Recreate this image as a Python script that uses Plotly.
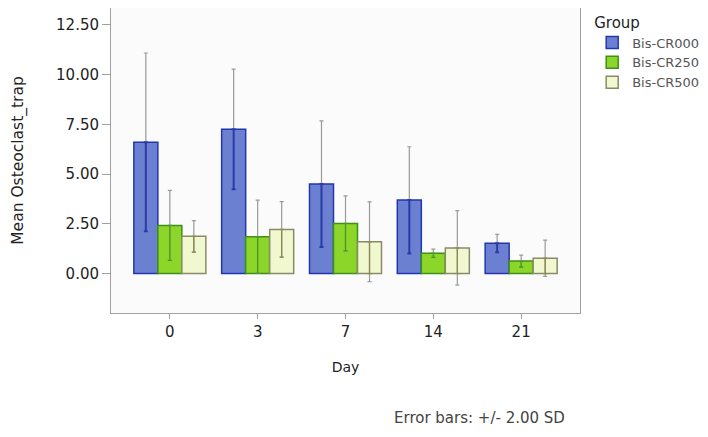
import plotly.graph_objects as go

days = ["0", "3", "7", "14", "21"]
groups = ["Bis-CR000", "Bis-CR250", "Bis-CR500"]
means = {
    "Bis-CR000": [6.60, 7.25, 4.50, 3.69, 1.52],
    "Bis-CR250": [2.42, 1.85, 2.52, 1.02, 0.63],
    "Bis-CR500": [1.87, 2.22, 1.60, 1.29, 0.77],
}
err2sd = {
    "Bis-CR000": [4.48, 3.02, 3.17, 2.68, 0.45],
    "Bis-CR250": [1.76, 1.84, 1.38, 0.21, 0.30],
    "Bis-CR500": [0.79, 1.39, 2.00, 1.87, 0.91],
}
fills = {"Bis-CR000": "#6c80d2", "Bis-CR250": "#8cd62a", "Bis-CR500": "#f1f8cf"}
lines = {"Bis-CR000": "#2236b0", "Bis-CR250": "#3f8f1a", "Bis-CR500": "#8a8a6a"}
inner = {"Bis-CR000": "#2a3aa8", "Bis-CR250": "#4a9a1c", "Bis-CR500": "#8a8a50"}

font = "DejaVu Sans, sans-serif"
fig = go.Figure()
for g in groups:
    fig.add_trace(go.Bar(
        x=days, y=means[g], name=g, offsetgroup=g,
        marker=dict(color=fills[g], line=dict(color=lines[g], width=1.5)),
        error_y=dict(type="data", array=err2sd[g], color="#9a9a9a", thickness=1.2, width=2),
    ))
for g in groups:
    minus = [min(e, m) for e, m in zip(err2sd[g], means[g])]
    fig.add_trace(go.Bar(
        x=days, y=means[g], name=g, offsetgroup=g, showlegend=False, hoverinfo="skip",
        marker=dict(color="rgba(0,0,0,0)", line=dict(width=0)),
        error_y=dict(type="data", symmetric=False, array=[0]*len(days), arrayminus=minus,
                     color=inner[g], thickness=2 if g == "Bis-CR000" else 1.3, width=2),
    ))

fig.update_layout(
    width=708, height=437,
    margin=dict(l=103, r=136, t=0, b=132, autoexpand=False),
    paper_bgcolor="white", plot_bgcolor="#fbfbfb",
    barmode="group", bargap=0.18, bargroupgap=0,
    font=dict(family=font, size=14, color="#222"),
    legend=dict(
        title=dict(text="Group", font=dict(size=15, color="#222")),
        x=1.026, y=1.0, xanchor="left", yanchor="top",
        font=dict(size=13, color="#555"),
        tracegroupgap=0, itemwidth=30,
    ),
    showlegend=True,
    annotations=[dict(text="Error bars: +/- 2.00 SD", xref="paper", yref="paper",
                      x=0.786, y=-0.344, xanchor="center", yanchor="middle",
                      showarrow=False, font=dict(size=15, color="#444"))],
)
fig.update_xaxes(
    type="category", range=[-0.67, 4.67],
    showline=True, linecolor="#a0a0a0", linewidth=1, mirror=True,
    ticks="outside", ticklen=5, tickcolor="#a0a0a0",
    tickfont=dict(size=15),
    title=dict(text="Day", font=dict(size=14), standoff=22),
    showgrid=False,
)
fig.update_yaxes(
    range=[-1.98, 13.34], tickvals=[0, 2.5, 5, 7.5, 10, 12.5], tickformat=".2f",
    showline=True, linecolor="#a0a0a0", linewidth=1, mirror=True,
    ticks="outside", ticklen=8, tickcolor="#a0a0a0",
    tickfont=dict(size=15),
    title=dict(text="Mean Osteoclast_trap", font=dict(size=15.5), standoff=28),
    showgrid=False, zeroline=False,
)
fig.write_html("out.html")
